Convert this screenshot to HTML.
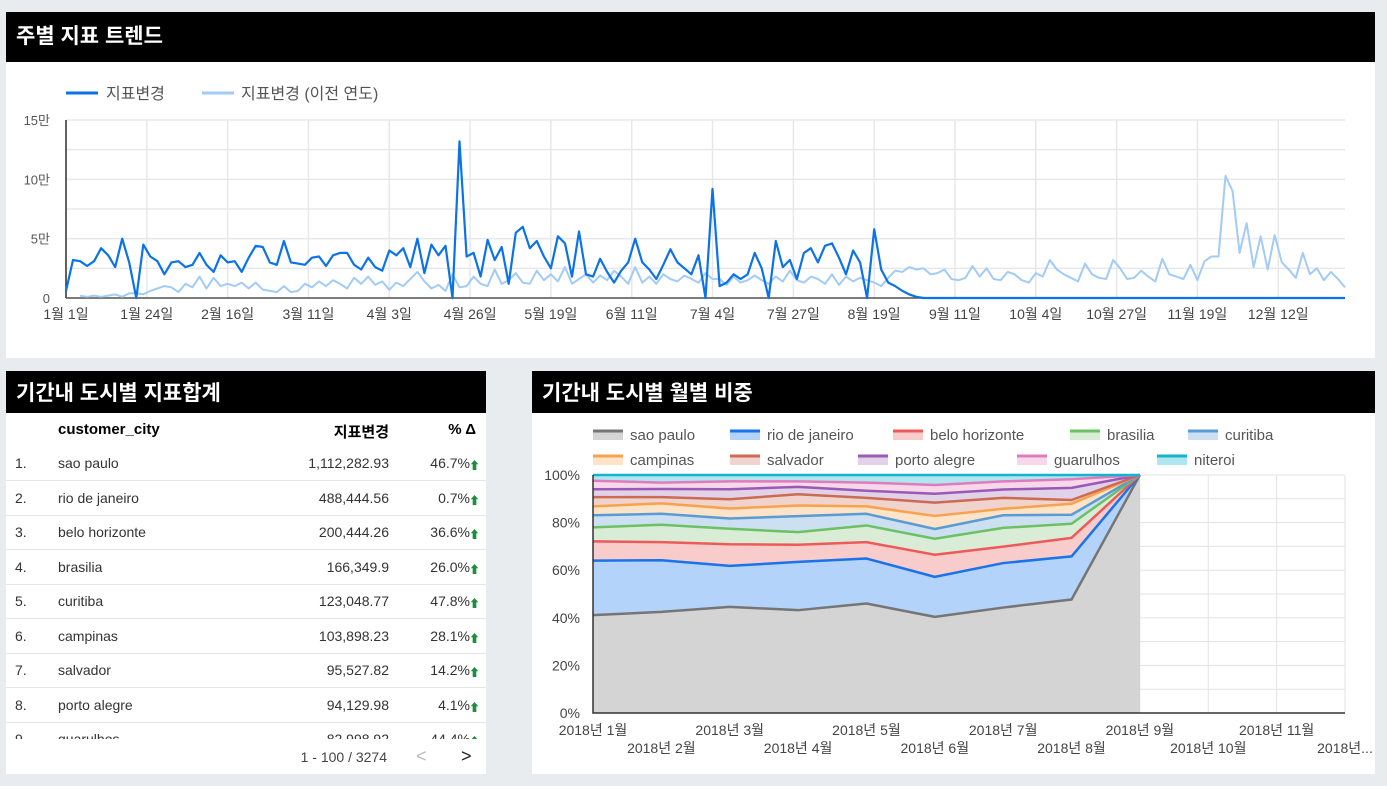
<!DOCTYPE html>
<html><head><meta charset="utf-8">
<style>
body{margin:0;width:1387px;height:786px;background:#e9ecef;font-family:"Liberation Sans","Noto Sans CJK KR",sans-serif;position:relative;overflow:hidden;color:#333}
.panel{position:absolute;background:#fff}
.hdr{position:absolute;left:0;right:0;top:0;background:#000;color:#fff;font-weight:bold;font-size:21px;padding-left:10px;box-sizing:border-box}
svg text{font-family:"Liberation Sans","Noto Sans CJK KR",sans-serif}
.row{position:absolute;left:0;width:480px;height:34px;border-bottom:1px solid #e6e6e6;font-size:14px}
.row span{position:absolute;top:9px}
</style></head><body>
<div class="panel" style="left:6px;top:12px;width:1369px;height:346px">
 <div class="hdr" style="height:50px;line-height:50px">주별 지표 트렌드</div>
</div>
<svg id="top" style="position:absolute;left:0;top:0" width="1387" height="360"></svg>

<div class="panel" style="left:6px;top:371px;width:480px;height:403px;overflow:hidden">
 <div class="hdr" style="height:42px;line-height:46px">기간내 도시별 지표합계</div>
 <div style="position:absolute;top:50px;left:0;width:480px;font-size:15px;font-weight:bold;color:#000">
  <span style="position:absolute;left:52px">customer_city</span>
  <span style="position:absolute;right:97px">지표변경</span>
  <span style="position:absolute;right:10px">% Δ</span>
 </div>
 <div id="rows" style="position:absolute;left:0;top:0;width:480px;height:368px;overflow:hidden"></div>
 <div style="position:absolute;top:368px;left:0;width:480px;height:35px;background:#fff;font-size:14px;color:#444">
  <span style="position:absolute;right:99px;top:10px">1 - 100 / 3274</span>
  <span style="position:absolute;left:410px;top:7px;color:#bbb;font-size:18px">&lt;</span>
  <span style="position:absolute;left:455px;top:7px;color:#222;font-size:18px">&gt;</span>
 </div>
</div>

<div class="panel" style="left:532px;top:371px;width:843px;height:403px">
 <div class="hdr" style="height:42px;line-height:46px">기간내 도시별 월별 비중</div>
</div>
<svg id="area" style="position:absolute;left:0;top:0" width="1387" height="786"></svg>

<script>
// ---- top chart data (unit: 만, one value per 2 days) ----
const xTickLabels=["1월 1일","1월 24일","2월 16일","3월 11일","4월 3일","4월 26일","5월 19일","6월 11일","7월 4일","7월 27일","8월 19일","9월 11일","10월 4일","10월 27일","11월 19일","12월 12일"];
const yTickLabels=["0","5만","10만","15만"];
const currentYear=[0.6,3.2,3.1,2.7,3.1,4.2,3.6,2.6,5.0,3.0,
0,4.5,3.5,3.1,2.0,3.0,3.1,2.6,2.8,3.8,
2.8,2.2,3.6,3.0,3.1,2.2,3.4,4.4,4.3,3.0,
2.8,4.8,3.0,2.9,2.8,3.4,3.5,2.7,3.6,3.8,
3.8,2.8,2.4,3.4,2.6,2.3,4.0,3.6,4.2,2.6,
5.0,2.1,4.5,3.6,4.4,0,13.2,3.5,3.8,1.8,
4.9,3.2,4.3,1.2,5.5,6.0,4.2,4.8,3.5,2.5,
5.2,4.6,1.8,5.6,2.0,1.8,3.3,2.2,1.3,2.3,
3.0,5.0,3.0,2.4,1.6,2.8,4.1,3.0,2.5,2.0,
3.6,0,9.2,1.0,1.3,2.0,1.6,2.0,3.8,2.5,
0,4.8,2.6,3.2,1.6,3.8,4.2,3.0,4.4,4.6,
3.4,2.0,4.0,3.0,0,5.8,2.4,1.3,1.0,0.6,0.3,0.1,0,
0,0,0,0,0,0,0,0,0,0,0,0,0,0,0,0,0,0,0,0,0,0,0,0,0,0,0,0,0,0,
0,0,0,0,0,0,0,0,0,0,0,0,0,0,0,0,0,0,0,0,0,0,0,0,0,0,0,0,0,0];
const previousYear=[null,null,0.2,0.1,0.2,0.1,0.2,0.3,0.1,0.4,
0.4,0.3,0.6,0.8,1.0,0.9,0.5,1.2,0.9,1.8,
0.8,1.7,1.0,1.2,1.0,1.3,0.8,1.3,0.7,0.6,
0.5,1.0,0.5,0.6,1.2,0.9,1.4,1.0,1.5,1.2,
0.8,1.7,1.2,1.8,1.1,1.4,0.7,1.3,1.0,1.6,
2.2,1.4,0.8,1.1,0.6,2.0,0.9,1.0,1.8,1.2,
1.0,2.4,1.2,1.5,2.1,1.3,1.2,2.3,1.5,2.0,
1.4,2.6,1.2,1.6,2.0,1.3,1.9,1.5,2.3,1.8,
1.2,2.6,1.3,1.8,1.2,2.0,1.6,1.4,1.9,1.6,
1.3,2.1,1.6,1.6,1.1,1.8,1.3,1.5,1.9,1.5,
1.2,1.8,1.4,2.3,1.5,1.3,1.8,1.6,1.2,2.0,
1.1,1.8,1.4,1.7,1.5,1.3,1.0,1.7,2.3,2.2,
2.6,2.4,2.5,2.0,2.1,2.4,1.6,1.5,1.7,2.7,
1.8,2.5,1.6,1.5,2.2,2.0,1.5,1.3,2.1,1.8,
3.2,2.4,2.0,1.7,1.4,2.9,2.0,1.7,1.6,3.2,
2.5,1.6,1.7,2.3,1.8,1.4,3.3,2.0,1.8,1.6,
2.8,1.5,3.1,3.5,3.5,10.3,9.0,3.8,6.3,2.6,
5.2,2.4,5.3,3.0,2.4,1.7,3.8,2.0,2.5,1.5,
2.2,1.6,0.9];

// ---- area chart data (share %) ----
const months=["2018년 1월","2018년 2월","2018년 3월","2018년 4월","2018년 5월","2018년 6월","2018년 7월","2018년 8월","2018년 9월","2018년 10월","2018년 11월","2018년..."];
const cities=["sao paulo","rio de janeiro","belo horizonte","brasilia","curitiba","campinas","salvador","porto alegre","guarulhos","niteroi"];
const saoPaulo=[41.1,42.5,44.6,43.2,46.0,40.4,44.3,47.7,100];
const rioDeJaneiro=[22.9,21.7,17.2,20.3,18.9,16.8,18.7,18.1,0];
const beloHorizonte=[8.1,7.6,9.1,7.2,6.9,9.3,6.9,7.8,0];
const brasilia=[5.9,7.3,6.5,5.3,7.0,6.7,7.9,5.9,0];
const curitiba=[5.1,4.6,4.3,6.7,4.9,4.1,5.3,3.8,0];
const campinas=[3.7,4.4,4.2,4.5,3.1,5.5,2.7,4.6,0];
const salvador=[3.9,2.6,3.9,4.7,3.6,5.6,4.6,1.6,0];
const portoAlegre=[3.3,3.4,4.2,3.1,3.0,3.7,3.5,5.1,0];
const guarulhos=[3.6,2.7,3.3,2.3,3.4,3.7,3.4,3.6,0];
const niteroi=[2.4,3.2,2.7,2.7,3.2,4.2,2.7,1.8,0];
const yPctLabels=["0%","20%","40%","60%","80%","100%"];

// ---- table data ----
const tCities=["sao paulo","rio de janeiro","belo horizonte","brasilia","curitiba","campinas","salvador","porto alegre","guarulhos"];
const tValues=["1,112,282.93","488,444.56","200,444.26","166,349.9","123,048.77","103,898.23","95,527.82","94,129.98","82,998.92"];
const tDeltas=["46.7%","0.7%","36.6%","26.0%","47.8%","28.1%","14.2%","4.1%","44.4%"];

const NS="http://www.w3.org/2000/svg";
function mk(p,tag,a,txt){const e=document.createElementNS(NS,tag);for(const k in a)e.setAttribute(k,a[k]);if(txt!=null)e.textContent=txt;p.appendChild(e);return e;}

// ===== top chart =====
(function(){
const s=document.getElementById('top');
const X0=66,X1=1345,Y0=298,Y1=120;
const xd=d=>X0+d*(X1-X0)/364;
const yv=v=>Y0-v*(Y0-Y1)/15;
for(let i=0;i<=6;i++){const y=yv(i*2.5);const g=mk(s,'line',{x1:X0,x2:X1,y1:y,y2:y,stroke:'#e8e8e8','stroke-width':1.5});
}
xTickLabels.forEach((l,i)=>{const x=xd(i*23);
 const g=mk(s,'line',{x1:x,x2:x,y1:Y1,y2:Y0,stroke:'#e8e8e8','stroke-width':1.5});
 
 const t=mk(s,'text',{x:x,y:319,'text-anchor':'middle','font-size':14,fill:'#444'},l);
 });
yTickLabels.forEach((l,i)=>{const t=mk(s,'text',{x:50,y:yv(i*5)+5,'text-anchor':'end','font-size':13,fill:'#555'},l);
 });
const ax=mk(s,'line',{x1:X0,x2:X0,y1:Y1,y2:Y0,stroke:'#333','stroke-width':1.5});

const ax2=mk(s,'line',{x1:X0,x2:X1,y1:Y0,y2:Y0,stroke:'#555','stroke-width':1.5});

function path(arr){let d='',pen=false;arr.forEach((v,i)=>{if(v==null){pen=false;return;}d+=(pen?'L':'M')+xd(Math.min(i*2,364)).toFixed(1)+','+yv(v).toFixed(1);pen=true;});return d;}
const p1=mk(s,'path',{d:path(previousYear),fill:'none',stroke:'#a2cbf6','stroke-width':2,'stroke-linejoin':'round'});

const p2=mk(s,'path',{d:path(currentYear),fill:'none',stroke:'#0b72e7','stroke-width':2.2,'stroke-linejoin':'round'});

const l1=mk(s,'line',{x1:66,x2:98,y1:93,y2:93,stroke:'#0b72e7','stroke-width':3});

const t1=mk(s,'text',{x:106,y:99,'font-size':16,fill:'#555'},'지표변경');

const l2=mk(s,'line',{x1:202,x2:234,y1:93,y2:93,stroke:'#a2cbf6','stroke-width':3});

const t2=mk(s,'text',{x:241,y:99,'font-size':16,fill:'#555'},'지표변경 (이전 연도)');

})();

// ===== table =====
(function(){
const c=document.getElementById('rows');
tCities.forEach((city,i)=>{
 const r=document.createElement('div');r.className='row';r.style.top=(75+i*34.5)+'px';
 
 
 r.innerHTML='<span style="left:9px">'+(i+1)+'.</span><span style="left:52px">'+city+'</span><span style="right:97px">'+tValues[i]+'</span><span style="right:16px">'+tDeltas[i]+'</span><span style="right:6px;color:#1e8e3e;font-size:11px;top:11px">⬆</span>';
 c.appendChild(r);});
})();

// ===== area chart =====
(function(){
const s=document.getElementById('area');
const series=[saoPaulo,rioDeJaneiro,beloHorizonte,brasilia,curitiba,campinas,salvador,portoAlegre,guarulhos,niteroi];
const cols=['#757575','#1a73e8','#ee5a5a','#6cc164','#5b9bd5','#f8a24e','#cc6b52','#9b59b6','#e07bbd','#12b5cb'];
const fills=['#d4d4d4','#b3d3fa','#f9cccc','#d9edd6','#cde0f2','#fde3c8','#efd3cc','#e2d2e8','#f6d8ea','#b0e6ee'];
const X0=593,X1=1345,Y0=713,Y1=475;
const xm=i=>X0+i*(X1-X0)/(months.length-1);
const yp=p=>Y0-p*(Y0-Y1)/100;
for(let i=0;i<=10;i++){const y=yp(i*10);const g=mk(s,'line',{x1:X0,x2:X1,y1:y,y2:y,stroke:'#e3e3e3','stroke-width':1});
 }
months.forEach((m,i)=>{const x=xm(i);
 const g=mk(s,'line',{x1:x,x2:x,y1:Y1,y2:Y0,stroke:'#e3e3e3','stroke-width':1});
 
 const t=mk(s,'text',{x:x,y:i%2?753:735,'text-anchor':'middle','font-size':14,fill:'#444'},m);
 });
yPctLabels.forEach((l,i)=>{const t=mk(s,'text',{x:580,y:yp(i*20)+5,'text-anchor':'end','font-size':14,fill:'#444'},l);
 });
const n=saoPaulo.length;let base=new Array(n).fill(0);
series.forEach((arr,k)=>{
 const top=arr.map((v,i)=>base[i]+v);
 let d='';for(let i=0;i<n;i++)d+=(i?'L':'M')+xm(i)+','+yp(top[i]);
 for(let i=n-1;i>=0;i--)d+='L'+xm(i)+','+yp(base[i]);
 const a=mk(s,'path',{d:d+'Z',fill:fills[k],stroke:'none'});
 
 
 base=top;});
base=new Array(n).fill(0);
series.forEach((arr,k)=>{
 const top=arr.map((v,i)=>base[i]+v);
 let ld='';for(let i=0;i<n;i++)ld+=(i?'L':'M')+xm(i)+','+yp(top[i]);
 const ln=mk(s,'path',{d:ld,fill:'none',stroke:cols[k],'stroke-width':2.5,'stroke-linejoin':'round'});
 
 
 base=top;});
const ax=mk(s,'path',{d:'M'+X0+','+Y1+'L'+X0+','+Y0+'L'+X1+','+Y0,fill:'none',stroke:'#333','stroke-width':1.5});

const lx=[593,730,893,1070,1188,593,730,858,1017,1157];
cities.forEach((c,k)=>{const x=lx[k],y=k<5?435:460;
 const r=mk(s,'rect',{x:x,y:y-5,width:30,height:10,fill:fills[k]});
 
 const l=mk(s,'line',{x1:x,x2:x+30,y1:y-4,y2:y-4,stroke:cols[k],'stroke-width':3});
 
 const t=mk(s,'text',{x:x+37,y:y+5,'font-size':15,fill:'#555'},c);
 });
})();
</script>
</body></html>
